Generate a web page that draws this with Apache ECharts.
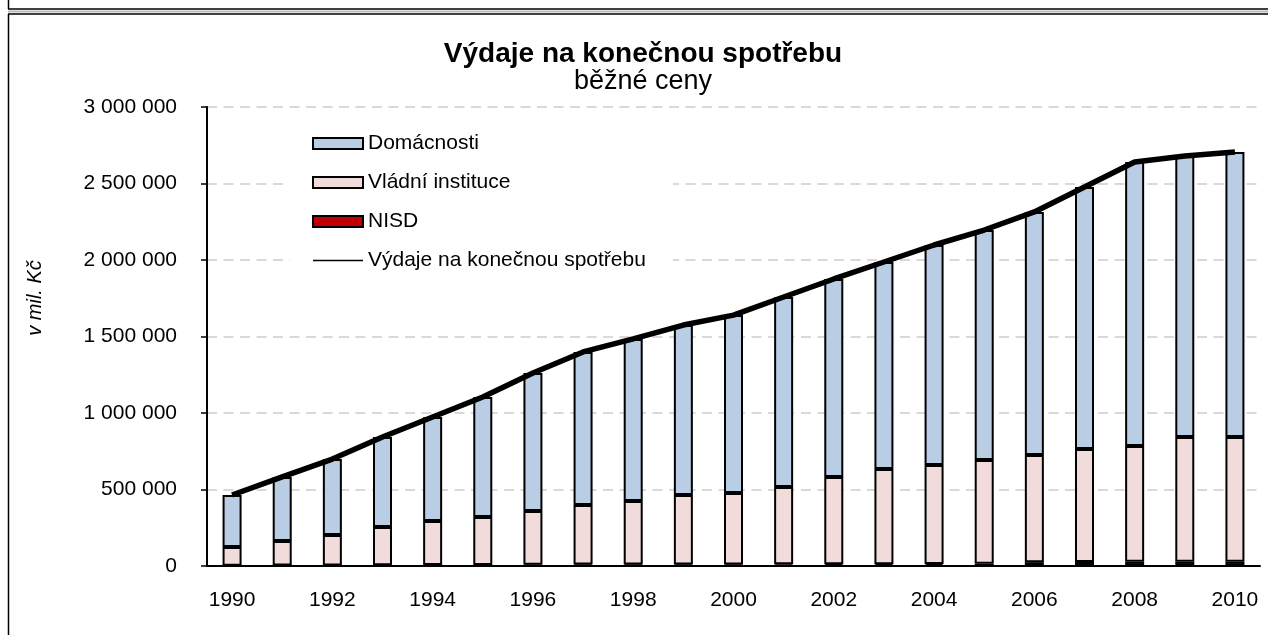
<!DOCTYPE html>
<html>
<head>
<meta charset="utf-8">
<script src="https://cdn.jsdelivr.net/npm/echarts@6/dist/echarts.min.js"></script>
<style>html,body{margin:0;padding:0;background:#fff;}#c{width:1268px;height:635px;}</style>
</head>
<body>
<div id="c"></div>
<script>
const years = ['1990','1991','1992','1993','1994','1995','1996','1997','1998','1999','2000','2001','2002','2003','2004','2005','2006','2007','2008','2009','2010'];
const domacnosti = [340000,419000,496000,588000,680000,785000,902000,1000000,1059000,1111000,1163000,1242000,1294000,1353000,1438000,1503000,1588000,1712000,1857000,1837000,1863000];
const vladni = [122000,160000,199000,250000,288000,313000,351000,390000,416000,454000,467000,505000,570000,622000,647000,679000,701000,739000,757000,815000,815000];
const nisd = [2000,3000,4000,5000,6000,7000,8000,9000,9000,10000,10000,11000,12000,12000,13000,14000,25000,26000,27000,28000,28000];
const vydaje = [464000,582000,699000,843000,974000,1105000,1261000,1399000,1484000,1575000,1640000,1758000,1876000,1987000,2098000,2196000,2314000,2477000,2641000,2680000,2706000];
const yTicks = {min: 0, max: 3000000, interval: 500000};

const FONT = "'Liberation Sans', Arial, sans-serif";
const fmt = v => String(v).replace(/\B(?=(\d{3})+(?!\d))/g, ' ');
const chart = echarts.init(document.getElementById('c'), null, {renderer: 'canvas'});
const border = {borderColor: '#000', borderWidth: 2};
chart.setOption({
  animation: false,
  backgroundColor: '#fff',
  textStyle: {fontFamily: FONT},
  grid: {left: 207, right: 8, top: 107, bottom: 69, containLabel: false},
  graphic: [
    {type: 'line', shape: {x1: 8.5, y1: 0, x2: 8.5, y2: 9}, style: {stroke: '#000', lineWidth: 1.5}},
    {type: 'line', shape: {x1: 8, y1: 9, x2: 1268, y2: 9}, style: {stroke: '#000', lineWidth: 1.5}},
    {type: 'line', shape: {x1: 8, y1: 11.5, x2: 1268, y2: 11.5}, style: {stroke: '#bbb', lineWidth: 2}},
    {type: 'line', shape: {x1: 8, y1: 14, x2: 1268, y2: 14}, style: {stroke: '#000', lineWidth: 1.5}},
    {type: 'line', shape: {x1: 8.5, y1: 14, x2: 8.5, y2: 635}, style: {stroke: '#000', lineWidth: 1.5}},
    {type: 'text', x: 643, y: 54, style: {text: 'Výdaje na konečnou spotřebu', font: 'bold 28px ' + FONT, fill: '#000', textAlign: 'center', textVerticalAlign: 'middle'}},
    {type: 'text', x: 643, y: 82, style: {text: 'běžné ceny', font: '27px ' + FONT, fill: '#000', textAlign: 'center', textVerticalAlign: 'middle'}},
    {type: 'text', x: 35, y: 298, rotation: Math.PI / 2, style: {text: 'v mil. Kč', font: 'italic 20px ' + FONT, fill: '#000', textAlign: 'center', textVerticalAlign: 'middle'}}
  ],
  legend: {
    orient: 'vertical', left: 290, top: 121,
    padding: [12, 27, 12, 22],
    backgroundColor: '#fff',
    itemWidth: 50, itemHeight: 11, itemGap: 18,
    textStyle: {fontSize: 21, color: '#000', fontFamily: FONT, lineHeight: 20},
    data: [
      {name: 'Domácnosti', icon: 'rect'},
      {name: 'Vládní instituce', icon: 'rect'},
      {name: 'NISD', icon: 'rect'},
      {name: 'Výdaje na konečnou spotřebu', itemStyle: {color: 'rgba(0,0,0,0)', borderWidth: 0, opacity: 0}, lineStyle: {width: 1.5, color: '#000', opacity: 1}}
    ]
  },
  xAxis: {
    type: 'category', data: years, boundaryGap: true,
    axisLine: {lineStyle: {color: '#000', width: 2}},
    axisTick: {interval: 0, length: 5, lineStyle: {color: '#000', width: 1.5}},
    axisLabel: {interval: 1, margin: 24, fontSize: 21, color: '#000', fontFamily: FONT},
    splitLine: {show: false}
  },
  yAxis: {
    type: 'value', min: yTicks.min, max: yTicks.max, interval: yTicks.interval,
    axisLine: {show: true, lineStyle: {color: '#000', width: 2}},
    axisTick: {show: true, length: 6, lineStyle: {color: '#000', width: 1.5}},
    axisLabel: {margin: 30, fontSize: 21, color: '#000', fontFamily: FONT, formatter: fmt},
    splitLine: {show: true, lineStyle: {color: '#d9d9d9', width: 2, type: [10, 6.5]}}
  },
  series: [
    {name: 'NISD', type: 'bar', stack: 's', data: nisd, barWidth: 19, itemStyle: Object.assign({color: '#c00000'}, border)},
    {name: 'Vládní instituce', type: 'bar', stack: 's', data: vladni, barWidth: 19, itemStyle: Object.assign({color: '#f2dcdb'}, border)},
    {name: 'Domácnosti', type: 'bar', stack: 's', data: domacnosti, barWidth: 19, itemStyle: Object.assign({color: '#b9cde5'}, border)},
    {name: 'Výdaje na konečnou spotřebu', type: 'line', data: vydaje, symbol: 'none', z: 5,
     lineStyle: {color: '#000', width: 5.5}, itemStyle: {color: '#000'}}
  ]
});
</script>
</body>
</html>
